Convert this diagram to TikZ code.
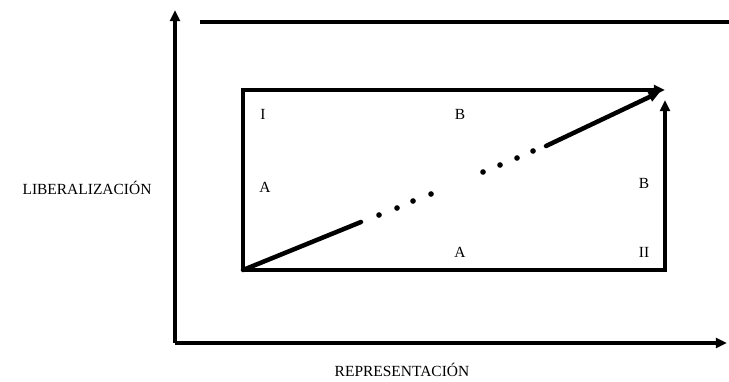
\documentclass[tikz,border=0pt]{standalone}
\usepackage{fontspec}
\setmainfont{Liberation Serif}
\usetikzlibrary{positioning, arrows.meta, calc}

\begin{document}
\begin{tikzpicture}[x=0.025cm, y=-0.025cm, >={Triangle[length=8pt, width=7pt]},
    every node/.style={align=center, font=\fontsize{11}{13}\selectfont},
    axisline/.style={line width=3.2pt},
    boxline/.style={line width=2.8pt},
    pathline/.style={line width=3.2pt, line cap=round}]
    \useasboundingbox (0,0) rectangle (729,381);
    % Axes
    \coordinate (origin) at (175,343);
    \coordinate (ytop) at (175,10);
    \coordinate (xend) at (727,343);
    \coordinate (capl) at (200,22);
    \coordinate (capr) at (729,22);
    \draw[axisline, ->] (origin) -- (ytop);
    \draw[axisline, ->] (origin) -- (xend);
    \draw[axisline] (capl) -- (capr);
    % Axis labels
    \node (lib) at (87,188) {LIBERALIZACI\'ON};
    \node (rep) at (402,370) {REPRESENTACI\'ON};
    % Inner box
    \coordinate (bl) at (243,270);
    \coordinate (tl) at (243,90);
    \coordinate (tr) at (665,90);
    \coordinate (br) at (665,270);
    \draw[boxline, ->] (bl) -- (tl) -- (tr);
    \draw[boxline, ->] (bl) -- (br) -- (665,100);
    % Corner labels
    \node (one) at (263,114) {I};
    \node (btop) at (460,114) {B};
    \node (aleft) at (265,187) {A};
    \node (bright) at (644,183) {B};
    \node (abot) at (460,252) {A};
    \node (two) at (644,252) {II};
    % Diagonal path
    \coordinate (d1) at (361,222);
    \coordinate (d2) at (546,146);
    \coordinate (dtip) at (660,92);
    \draw[pathline] (bl) -- (d1);
    \foreach \px/\py in {379/215, 397/208, 413/201, 431/194, 483/172, 500/165, 517/158, 533/151}
        \fill (\px,\py) circle (2pt);
    \draw[pathline, ->] (d2) -- (dtip);
\end{tikzpicture}
\end{document}
